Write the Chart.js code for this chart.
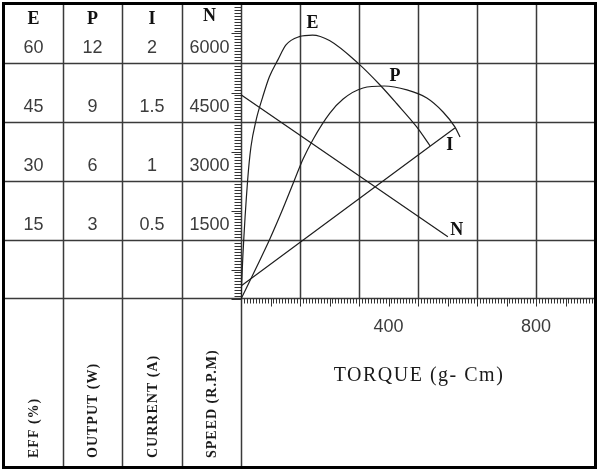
<!DOCTYPE html>
<html>
<head>
<meta charset="utf-8">
<script src="https://cdn.jsdelivr.net/npm/chart.js@4.4.1/dist/chart.umd.min.js"></script>
<style>
  html, body { margin: 0; padding: 0; background: #fff; }
  #wrap { width: 600px; height: 471px; }
</style>
</head>
<body>
<div id="wrap"><canvas id="motorChart" width="600" height="471"></canvas></div>
<script>
// torque axis (g-Cm)
const torqueMax = 960;
const torqueGrid = 160;
const torqueTickLabels = [400, 800];

// header columns: E, P, I, N (each column has its own scale, same grid)
const colNames = ['E', 'P', 'I', 'N'];
const colUnits = ['EFF (%)', 'OUTPUT (W)', 'CURRENT (A)', 'SPEED (R.P.M)'];
const colAxisIds = ['yE', 'yP', 'yI', 'yN'];
const colMax = [75, 15, 2.5, 7500];
const effTicks = [60, 45, 30, 15];
const outTicks = [12, 9, 6, 3];
const curTicks = [2, 1.5, 1, 0.5];
const speedTicks = [6000, 4500, 3000, 1500];
const colTickLists = [effTicks, outTicks, curTicks, speedTicks];

// curves
const torqueE = [0, 5, 18, 27, 41, 59, 77, 100, 122, 158, 194, 240, 318, 377, 422, 476, 513];
const effE = [0, 10.8, 30.2, 38.7, 45.5, 51.4, 56.5, 60.8, 64.6, 66.7, 67.1, 65.7, 59.9, 54.4, 49.7, 43.8, 38.9];

const torqueP = [0, 41, 77, 111, 144, 168, 195, 241, 277, 331, 388, 450, 504, 548, 580, 594];
const outP = [0, 1.58, 3.0, 4.47, 6.0, 7.1, 8.1, 9.45, 10.17, 10.73, 10.83, 10.63, 10.22, 9.51, 8.75, 8.24];

const torqueI = [0, 580];
const curI = [0.11, 1.45];

const torqueN = [0, 561];
const speedN = [5190, 1580];

const toPoints = (xs, ys) => xs.map((x, i) => ({ x: x, y: ys[i] }));

// table columns on the left (pixels)
const colEdges = [4, 63, 122, 182, 241];
const frameRight = 595;
const frameBottom = 467;

const serif = '"Liberation Serif", "DejaVu Serif", serif';
const sans = '"Liberation Sans", Arial, sans-serif';

const tablePlugin = {
    id: 'table',
    beforeDraw(chart) {
        const ctx = chart.ctx;
        ctx.save();
        ctx.fillStyle = '#fff';
        ctx.fillRect(0, 0, chart.width, chart.height);
        ctx.restore();
    },
    beforeDatasetsDraw(chart) {
        const ctx = chart.ctx;
        const a = chart.chartArea;
        const xs = chart.scales.x;
        const yN = chart.scales.yN;
        ctx.save();

        // grid + table lines
        ctx.strokeStyle = '#3a3a3a';
        ctx.lineWidth = 1.5;
        ctx.beginPath();
        for (let t = torqueGrid; t < torqueMax; t += torqueGrid) {
            const px = Math.round(xs.getPixelForValue(t)) + 0.5;
            ctx.moveTo(px, a.top);
            ctx.lineTo(px, a.bottom);
        }
        for (let i = 0; i < speedTicks.length; i++) {
            const py = Math.round(yN.getPixelForValue(speedTicks[i])) + 0.5;
            ctx.moveTo(colEdges[0], py);
            ctx.lineTo(frameRight, py);
        }
        const axisY = Math.round(yN.getPixelForValue(0)) - 0.5;
        ctx.moveTo(colEdges[0], axisY);
        ctx.lineTo(frameRight, axisY);
        for (let i = 1; i < colEdges.length; i++) {
            ctx.moveTo(colEdges[i] + 0.5, 4);
            ctx.lineTo(colEdges[i] + 0.5, frameBottom);
        }
        ctx.stroke();

        // rulers
        ctx.strokeStyle = '#333';
        ctx.lineWidth = 1;
        ctx.beginPath();
        const axisX = colEdges[4] + 0.5;
        for (let v = 0, k = 0; v <= 7500; v += 75, k++) {
            const py = Math.round(yN.getPixelForValue(v)) + 0.5;
            const len = k % 10 === 0 ? 10 : 7;
            ctx.moveTo(axisX - len, py);
            ctx.lineTo(axisX, py);
        }
        for (let t = 0, k = 0; t <= torqueMax; t += 8, k++) {
            const px = Math.round(xs.getPixelForValue(t)) + 0.5;
            const len = k % 10 === 0 ? 8 : 5;
            ctx.moveTo(px, axisY);
            ctx.lineTo(px, axisY + len);
        }
        ctx.stroke();

        // header letters
        ctx.fillStyle = '#111';
        ctx.textAlign = 'center';
        ctx.textBaseline = 'middle';
        ctx.font = 'bold 18px ' + serif;
        for (let c = 0; c < colNames.length; c++) {
            const cx = (colEdges[c] + colEdges[c + 1]) / 2;
            ctx.fillText(colNames[c], cx - (c === 3 ? 2 : 0), c === 3 ? 16 : 19);
        }

        // tick values per column
        ctx.font = '18px ' + sans;
        ctx.fillStyle = '#3c3c3c';
        for (let c = 0; c < colTickLists.length; c++) {
            const sc = chart.scales[colAxisIds[c]];
            const cx = (colEdges[c] + colEdges[c + 1]) / 2 - (c === 3 ? 2 : 0);
            colTickLists[c].forEach(v => {
                ctx.fillText(String(v), cx, sc.getPixelForValue(v) - 15);
            });
        }

        // torque tick labels
        torqueTickLabels.forEach(v => {
            ctx.fillText(String(v), xs.getPixelForValue(v), 327);
        });

        // torque title
        ctx.font = '20px ' + serif;
        ctx.fillStyle = '#1a1a1a';
        ctx.letterSpacing = '1.5px';
        ctx.fillText('TORQUE (g- Cm)', 419, 376);

        // unit labels, rotated
        ctx.font = 'bold 14px ' + serif;
        ctx.letterSpacing = '1px';
        ctx.textAlign = 'left';
        for (let c = 0; c < colUnits.length; c++) {
            const cx = (colEdges[c] + colEdges[c + 1]) / 2 + 1;
            ctx.save();
            ctx.translate(cx, 458);
            ctx.rotate(-Math.PI / 2);
            ctx.fillText(colUnits[c], 0, 0);
            ctx.restore();
        }
        ctx.restore();
    },
    afterDraw(chart) {
        const ctx = chart.ctx;
        ctx.save();

        // curve names
        ctx.font = 'bold 18px ' + serif;
        ctx.fillStyle = '#111';
        ctx.textAlign = 'center';
        ctx.textBaseline = 'middle';
        const place = (dsIndex, ptIndex, dx, dy, name) => {
            const el = chart.getDatasetMeta(dsIndex).data[ptIndex];
            ctx.fillText(name, el.x + dx, el.y + dy);
        };
        place(0, effE.indexOf(Math.max(...effE)), 0, -12, 'E');
        place(1, outP.indexOf(Math.max(...outP)), 11, -10, 'P');
        place(2, curI.length - 1, -5, 17, 'I');
        place(3, speedN.length - 1, 9, -7, 'N');

        // outer frame
        ctx.strokeStyle = '#000';
        ctx.lineWidth = 3;
        ctx.strokeRect(3.5, 3.5, 592, 464);
        ctx.restore();
    }
};

const curveStyle = {
    borderColor: '#1e1e1e',
    borderWidth: 1.2,
    pointRadius: 0,
    fill: false,
    cubicInterpolationMode: 'monotone'
};

new Chart(document.getElementById('motorChart'), {
    type: 'line',
    data: {
        datasets: [
            Object.assign({ label: 'E', data: toPoints(torqueE, effE), yAxisID: 'yE' }, curveStyle),
            Object.assign({ label: 'P', data: toPoints(torqueP, outP), yAxisID: 'yP' }, curveStyle),
            Object.assign({ label: 'I', data: toPoints(torqueI, curI), yAxisID: 'yI' }, curveStyle),
            Object.assign({ label: 'N', data: toPoints(torqueN, speedN), yAxisID: 'yN' }, curveStyle)
        ]
    },
    options: {
        responsive: false,
        animation: false,
        devicePixelRatio: 1,
        layout: { padding: { left: 241, right: 5, top: 4, bottom: 172 } },
        plugins: { legend: { display: false }, tooltip: { enabled: false } },
        scales: {
            x: { type: 'linear', min: 0, max: torqueMax, display: false },
            yE: { type: 'linear', min: 0, max: colMax[0], display: false },
            yP: { type: 'linear', min: 0, max: colMax[1], display: false },
            yI: { type: 'linear', min: 0, max: colMax[2], display: false },
            yN: { type: 'linear', min: 0, max: colMax[3], display: false }
        }
    },
    plugins: [tablePlugin]
});
</script>
</body>
</html>
